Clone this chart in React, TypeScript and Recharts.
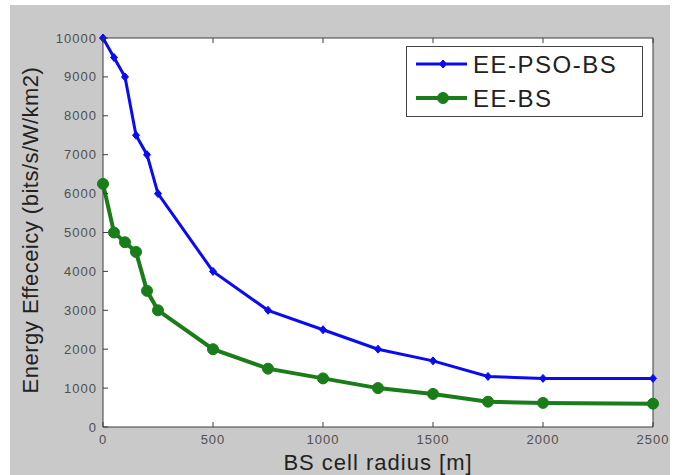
import { LineChart, Line, XAxis, YAxis, Legend, ReferenceArea } from 'recharts';

// --- Data ---
const radius = [0, 50, 100, 150, 200, 250, 500, 750, 1000, 1250, 1500, 1750, 2000, 2500];
const eePsoBs = [10000, 9500, 9000, 7500, 7000, 6000, 4000, 3000, 2500, 2000, 1700, 1300, 1250, 1250];
const eeBs = [6250, 5000, 4750, 4500, 3500, 3000, 2000, 1500, 1250, 1000, 850, 650, 620, 600];
const xTicks = [0, 500, 1000, 1500, 2000, 2500];
const yTicks = [0, 1000, 2000, 3000, 4000, 5000, 6000, 7000, 8000, 9000, 10000];
const seriesNames = ['EE-PSO-BS', 'EE-BS'];

const BLUE = '#0b0bf2';
const GREEN = '#1a7d1a';
const AXIS = '#3c3c3c';
const TICK_TEXT = '#505050';
const FONT = '"Liberation Sans", Arial, sans-serif';

const rows = radius.map((r, i) => ({ r, pso: eePsoBs[i], bs: eeBs[i] }));

// --- Ticks (MATLAB style: pointing inwards) ---
const BottomTick = ({ x, y, payload }: any) => (
    <g>
        <line x1={x} y1={y} x2={x} y2={y - 5} stroke={AXIS} />
        <text x={x} y={y + 17} textAnchor="middle" fontSize={13} fill={TICK_TEXT} fontFamily={FONT} letterSpacing={1}>
            {payload.value}
        </text>
    </g>
);

const LeftTick = ({ x, y, payload }: any) => (
    <g>
        <line x1={x} y1={y} x2={x + 5} y2={y} stroke={AXIS} />
        <text x={x - 6} y={y} dy="0.35em" textAnchor="end" fontSize={13} fill={TICK_TEXT} fontFamily={FONT} letterSpacing={1}>
            {payload.value}
        </text>
    </g>
);

const TopTick = ({ x, y }: any) => <line x1={x} y1={y} x2={x} y2={y + 5} stroke={AXIS} />;
const RightTick = ({ x, y }: any) => <line x1={x} y1={y} x2={x - 5} y2={y} stroke={AXIS} />;

// --- Markers ---
const Diamond = ({ cx, cy }: any) => (
    <polygon points={`${cx},${cy - 4} ${cx + 3.5},${cy} ${cx},${cy + 4} ${cx - 3.5},${cy}`} fill={BLUE} stroke={BLUE} />
);
const Dot = ({ cx, cy }: any) => <circle cx={cx} cy={cy} r={5.5} fill={GREEN} stroke={GREEN} />;

function LegendBox() {
    const items = [
        { name: seriesNames[0], color: BLUE, width: 3, marker: 'd' },
        { name: seriesNames[1], color: GREEN, width: 4, marker: 'o' },
    ];
    return (
        <svg width={237} height={71} style={{ display: 'block' }}>
            <rect x={0.5} y={0.5} width={236} height={70} fill="#fff" stroke="#444" />
            {items.map((it, i) => {
                const cy = 18 + i * 34;
                return (
                    <g key={it.name}>
                        <line x1={10} y1={cy} x2={61} y2={cy} stroke={it.color} strokeWidth={it.width} />
                        {it.marker === 'd' ? (
                            <Diamond cx={37} cy={cy} />
                        ) : (
                            <Dot cx={37} cy={cy} />
                        )}
                        <text x={67} y={cy} dy="0.36em" fontSize={24} fill="#222" fontFamily={FONT} letterSpacing={1.5}>
                            {it.name}
                        </text>
                    </g>
                );
            })}
        </svg>
    );
}

export default function App() {
    return (
        <div style={{ position: 'absolute', left: 10, top: 5, width: 660, height: 470, background: '#c9c9c9' }}>
            <LineChart width={660} height={470} data={rows} margin={{ top: 13, right: 7, bottom: 18, left: 33 }}>
                {/* white axes area */}
                <ReferenceArea
                    xAxisId="b"
                    yAxisId="l"
                    x1={0}
                    x2={2500}
                    y1={0}
                    y2={10000}
                    fill="#ffffff"
                    fillOpacity={1}
                    stroke="none"
                />
                <XAxis
                    xAxisId="b"
                    dataKey="r"
                    type="number"
                    domain={[0, 2500]}
                    ticks={xTicks}
                    height={30}
                    tickSize={0}
                    tickMargin={0}
                    tickLine={false}
                    axisLine={{ stroke: AXIS }}
                    tick={<BottomTick />}
                    interval={0}
                />
                <XAxis
                    xAxisId="t"
                    orientation="top"
                    dataKey="r"
                    type="number"
                    domain={[0, 2500]}
                    ticks={xTicks}
                    height={20}
                    tickSize={0}
                    tickMargin={0}
                    tickLine={false}
                    axisLine={{ stroke: AXIS }}
                    tick={<TopTick />}
                    interval={0}
                />
                <YAxis
                    yAxisId="l"
                    type="number"
                    domain={[0, 10000]}
                    ticks={yTicks}
                    width={60}
                    tickSize={0}
                    tickMargin={0}
                    tickLine={false}
                    axisLine={{ stroke: AXIS }}
                    tick={<LeftTick />}
                    interval={0}
                />
                <YAxis
                    yAxisId="r"
                    orientation="right"
                    type="number"
                    domain={[0, 10000]}
                    ticks={yTicks}
                    width={10}
                    tickSize={0}
                    tickMargin={0}
                    tickLine={false}
                    axisLine={{ stroke: AXIS }}
                    tick={<RightTick />}
                    interval={0}
                />
                <Line
                    xAxisId="b"
                    yAxisId="l"
                    dataKey="pso"
                    name={seriesNames[0]}
                    type="linear"
                    stroke={BLUE}
                    strokeWidth={3}
                    dot={<Diamond />}
                    isAnimationActive={false}
                />
                <Line
                    xAxisId="b"
                    yAxisId="l"
                    dataKey="bs"
                    name={seriesNames[1]}
                    type="linear"
                    stroke={GREEN}
                    strokeWidth={4}
                    dot={<Dot />}
                    isAnimationActive={false}
                />
                <Legend
                    layout="vertical"
                    align="center"
                    verticalAlign="middle"
                    wrapperStyle={{ left: 396, top: 41, width: 237, height: 71 }}
                    content={() => <LegendBox />}
                />
            </LineChart>
            {/* axis titles */}
            <svg width={660} height={470} style={{ position: 'absolute', left: 0, top: 0, pointerEvents: 'none' }}>
                <text x={368} y={465} textAnchor="middle" fontSize={22} fill="#222" fontFamily={FONT} letterSpacing={1}>
                    BS cell radius [m]
                </text>
                <text
                    transform="translate(20,225) rotate(-90)"
                    textAnchor="middle"
                    dominantBaseline="central"
                    fontSize={22}
                    fill="#222"
                    fontFamily={FONT}
                    letterSpacing={0.5}
                >
                    Energy Effeceicy (bits/s/W/km2)
                </text>
            </svg>
        </div>
    );
}
